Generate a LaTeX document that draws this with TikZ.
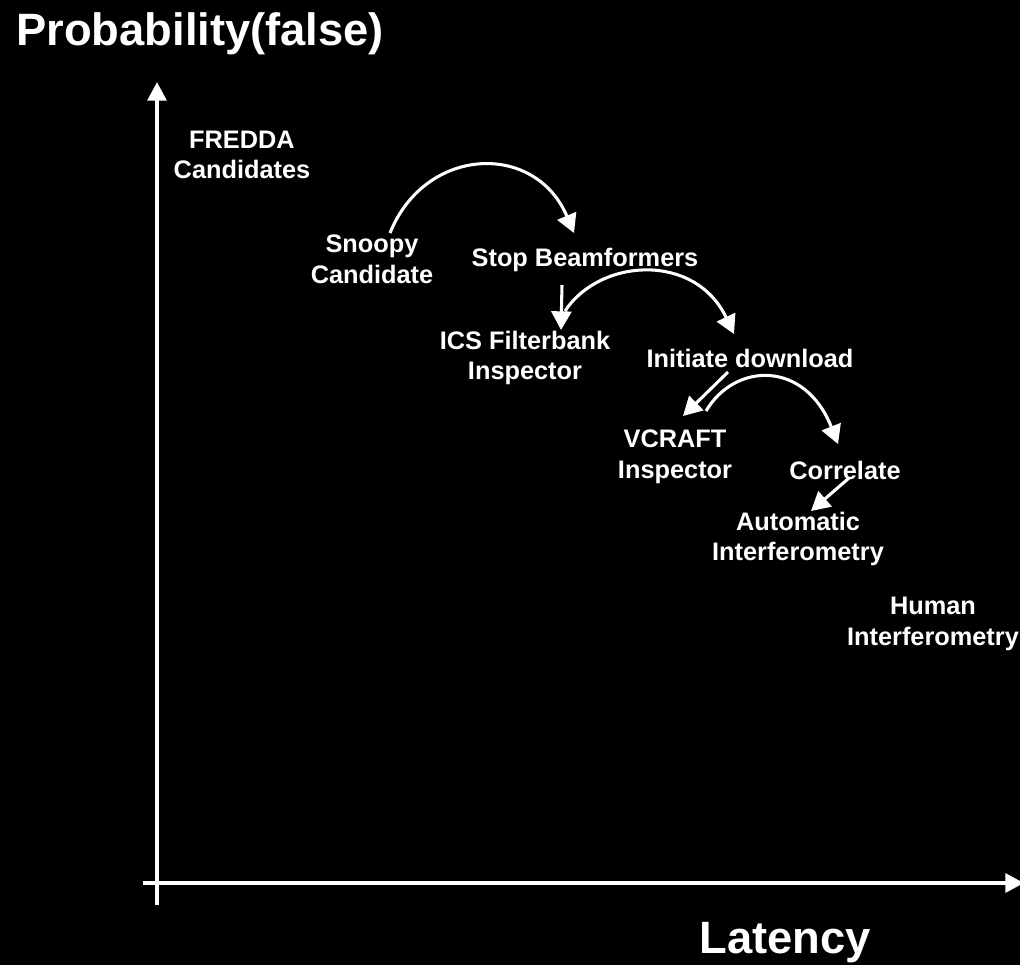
\documentclass[tikz,border=0pt]{standalone}
\usepackage{fontspec}
\setmainfont{Liberation Sans}
\usetikzlibrary{arrows.meta}
\begin{document}
\begin{tikzpicture}[x=0.75pt,y=-0.75pt,
  lbl/.style={text=white,align=center,inner sep=0pt,font=\bfseries\fontsize{19}{23}\selectfont},
  big/.style={text=white,inner sep=0pt,font=\bfseries\fontsize{34}{40}\selectfont},
  axis/.style={draw=white,line width=3pt,-{Triangle[length=14pt,width=14pt]}},
  flow/.style={draw=white,line width=2.3pt,-{Triangle[length=14pt,width=15pt]}}]
\fill[black] (0,0) rectangle (1020,965);
\useasboundingbox (0,0) rectangle (1020,965);
% axes
\coordinate (yb) at (157,905);
\coordinate (yt) at (157,82);
\coordinate (xl) at (143,883);
\coordinate (xr) at (1024,883);
\draw[axis] (yb) -- (yt);
\draw[axis] (xl) -- (xr);
\node[big,anchor=west] (title) at (16,34) {Probability(false)};
\node[big,anchor=base] (lat) at (785,953) {Latency};
% labels
\node[lbl] (fredda) at (242,155) {FREDDA\\Candidates};
\node[lbl] (snoopy) at (372,259) {Snoopy\\Candidate};
\node[lbl] (stop) at (585,260) {Stop Beamformers};
\node[lbl] (ics) at (525,358) {ICS Filterbank\\Inspector};
\node[lbl] (init) at (750,358) {Initiate download};
\node[lbl] (vcraft) at (675,457) {VCRAFT\\Inspector};
\node[lbl] (corr) at (845,470) {Correlate};
\node[lbl] (auto) at (798,539) {Automatic\\Interferometry};
\node[lbl] (human) at (933,624) {Human\\Interferometry};
% connector end points
\coordinate (s1) at (390,233);
\coordinate (e1) at (574,233);
\coordinate (s2) at (562,285);
\coordinate (e2) at (561,330);
\coordinate (s3) at (565,311);
\coordinate (e3) at (734,334);
\coordinate (s4) at (728,372);
\coordinate (e4) at (683,416);
\coordinate (s5) at (706,411);
\coordinate (e5) at (838,444);
\coordinate (s6) at (849,478);
\coordinate (e6) at (811,511);
\draw[flow] (s1) .. controls (425,146) and (535,141) .. (e1);
\draw[flow] (s2) -- (e2);
\draw[flow] (s3) .. controls (600,258) and (695,252) .. (e3);
\draw[flow] (s4) -- (e4);
\draw[flow] (s5) .. controls (735,362) and (805,360) .. (e5);
\draw[flow] (s6) -- (e6);
\end{tikzpicture}
\end{document}
